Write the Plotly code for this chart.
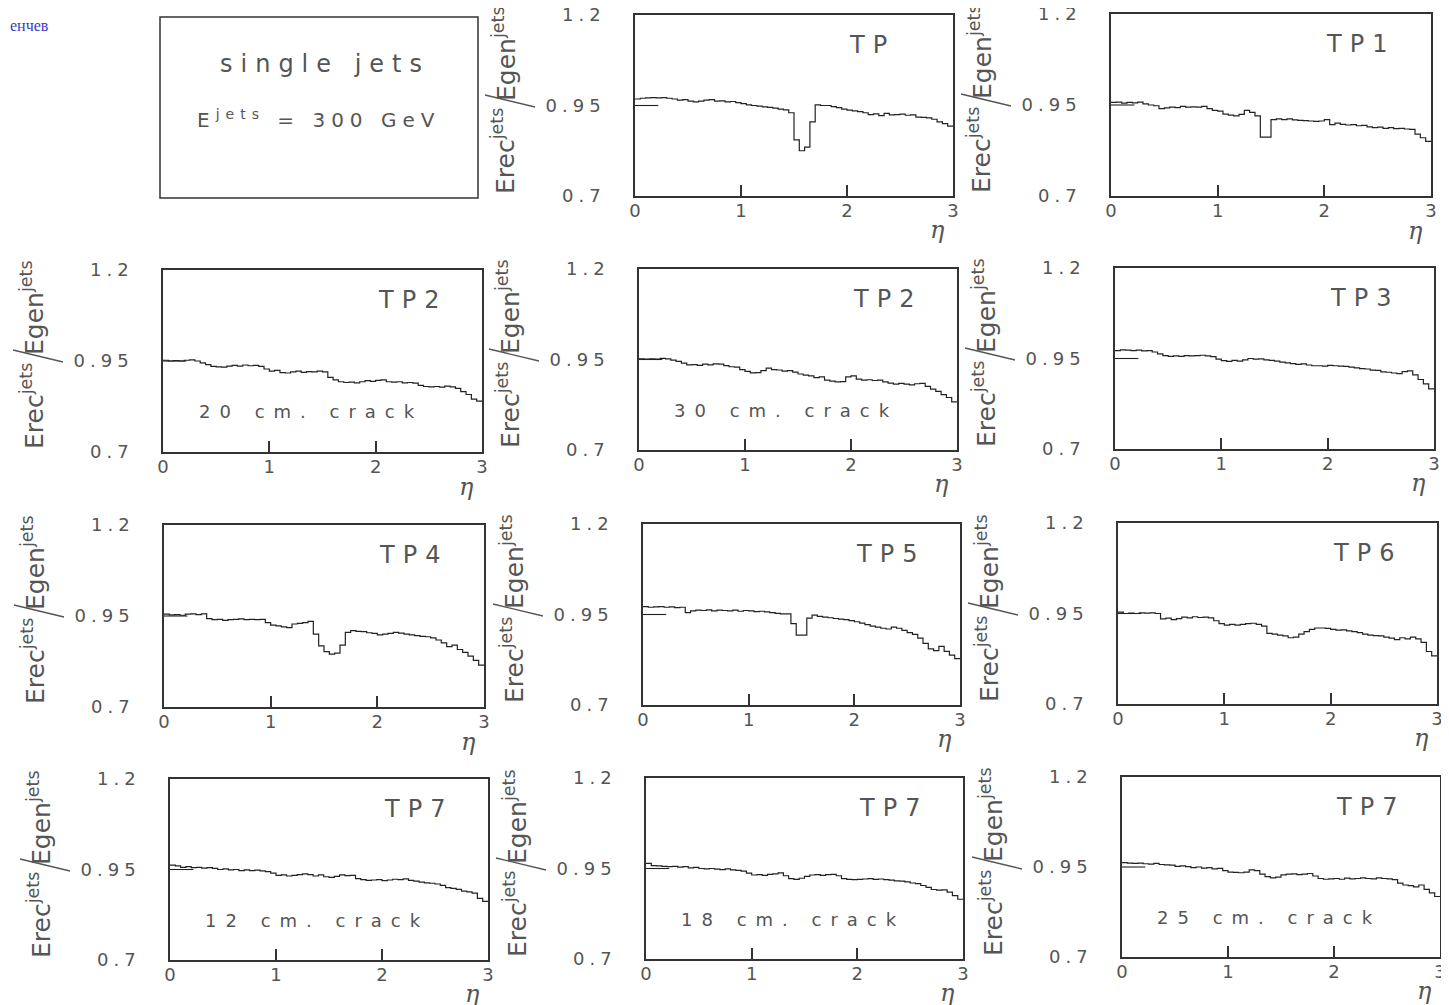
import numpy as np
import plotly.graph_objects as go

W, H = 1449, 1005
PAGE_OFFSET = 8  # default body margin of the written html page

# ---------------- data ----------------
ETA_EDGES = np.linspace(0.0, 3.0, 61)  # 60 bins, width 0.05 in eta

PANEL_LABELS = ["TP", "TP1", "TP2", "TP2", "TP3", "TP4", "TP5", "TP6", "TP7", "TP7", "TP7"]
CRACK_LABELS = ["", "", "20 cm. crack", "30 cm. crack", "", "", "", "",
                "12 cm. crack", "18 cm. crack", "25 cm. crack"]

R_TP = [0.968, 0.970, 0.971, 0.972, 0.971, 0.972, 0.970, 0.968, 0.965, 0.966,
        0.962, 0.960, 0.962, 0.965, 0.966, 0.962, 0.963, 0.960, 0.961, 0.958,
        0.955, 0.952, 0.950, 0.948, 0.946, 0.945, 0.943, 0.940, 0.938, 0.930,
        0.855, 0.825, 0.835, 0.905, 0.952, 0.950, 0.950, 0.947, 0.944, 0.940,
        0.937, 0.935, 0.933, 0.930, 0.925, 0.927, 0.922, 0.928, 0.924, 0.925,
        0.926, 0.923, 0.924, 0.918, 0.917, 0.916, 0.912, 0.905, 0.900, 0.893]
R_TP1 = [0.957, 0.958, 0.955, 0.957, 0.956, 0.958, 0.953, 0.950, 0.948, 0.940,
         0.942, 0.944, 0.943, 0.946, 0.944, 0.945, 0.944, 0.946, 0.940, 0.935,
         0.933, 0.925, 0.922, 0.920, 0.924, 0.935, 0.930, 0.920, 0.862, 0.862,
         0.910, 0.912, 0.910, 0.912, 0.909, 0.908, 0.907, 0.906, 0.905, 0.906,
         0.910, 0.896, 0.900, 0.897, 0.895, 0.896, 0.893, 0.894, 0.890, 0.888,
         0.889, 0.886, 0.888, 0.885, 0.886, 0.884, 0.883, 0.870, 0.860, 0.850]
R_TP2_20 = [0.952, 0.950, 0.951, 0.950, 0.952, 0.953, 0.950, 0.945, 0.940, 0.935,
            0.934, 0.933, 0.936, 0.938, 0.936, 0.939, 0.937, 0.938, 0.935, 0.928,
            0.922, 0.924, 0.918, 0.917, 0.920, 0.922, 0.919, 0.921, 0.920, 0.922,
            0.920, 0.905, 0.898, 0.893, 0.891, 0.892, 0.890, 0.893, 0.896, 0.894,
            0.897, 0.898, 0.893, 0.892, 0.893, 0.890, 0.891, 0.889, 0.883, 0.880,
            0.879, 0.880, 0.878, 0.881, 0.879, 0.875, 0.866, 0.858, 0.845, 0.840]
R_TP2_30 = [0.952, 0.951, 0.952, 0.951, 0.953, 0.952, 0.948, 0.945, 0.940, 0.935,
            0.936, 0.934, 0.937, 0.935, 0.938, 0.937, 0.933, 0.930, 0.929, 0.922,
            0.917, 0.913, 0.914, 0.919, 0.926, 0.922, 0.921, 0.918, 0.919, 0.915,
            0.910, 0.907, 0.905, 0.900, 0.902, 0.893, 0.890, 0.888, 0.889, 0.902,
            0.905, 0.896, 0.893, 0.894, 0.892, 0.893, 0.888, 0.885, 0.882, 0.884,
            0.882, 0.880, 0.883, 0.884, 0.876, 0.868, 0.862, 0.853, 0.845, 0.833]
R_TP3 = [0.972, 0.974, 0.973, 0.972, 0.973, 0.971, 0.972, 0.968, 0.963, 0.958,
         0.956, 0.957, 0.956, 0.958, 0.957, 0.958, 0.959, 0.957, 0.955, 0.948,
         0.944, 0.942, 0.945, 0.943, 0.946, 0.950, 0.948, 0.949, 0.946, 0.945,
         0.943, 0.940, 0.938, 0.936, 0.934, 0.935, 0.932, 0.930, 0.930, 0.929,
         0.931, 0.930, 0.929, 0.928, 0.926, 0.924, 0.922, 0.921, 0.918, 0.917,
         0.913, 0.912, 0.910, 0.908, 0.914, 0.916, 0.905, 0.892, 0.880, 0.866]
R_TP4 = [0.955, 0.953, 0.954, 0.952, 0.955, 0.956, 0.954, 0.956, 0.943, 0.940,
         0.941, 0.938, 0.940, 0.941, 0.942, 0.940, 0.941, 0.940, 0.941, 0.932,
         0.925, 0.923, 0.920, 0.918, 0.928, 0.930, 0.932, 0.935, 0.900, 0.868,
         0.852, 0.845, 0.848, 0.870, 0.905, 0.910, 0.908, 0.907, 0.904, 0.902,
         0.898, 0.900, 0.902, 0.905, 0.903, 0.900, 0.898, 0.896, 0.894, 0.893,
         0.890, 0.884, 0.876, 0.866, 0.870, 0.858, 0.850, 0.840, 0.828, 0.815]
R_TP5 = [0.972, 0.970, 0.971, 0.972, 0.970, 0.971, 0.969, 0.970, 0.955, 0.960,
         0.962, 0.961, 0.963, 0.960, 0.962, 0.961, 0.960, 0.962, 0.959, 0.961,
         0.960, 0.958, 0.959, 0.957, 0.955, 0.953, 0.952, 0.952, 0.925, 0.893,
         0.893, 0.940, 0.948, 0.945, 0.943, 0.941, 0.939, 0.937, 0.936, 0.933,
         0.930, 0.926, 0.922, 0.918, 0.915, 0.912, 0.910, 0.915, 0.912, 0.906,
         0.900, 0.895, 0.885, 0.870, 0.855, 0.850, 0.862, 0.848, 0.838, 0.828]
R_TP6 = [0.954, 0.950, 0.951, 0.950, 0.952, 0.951, 0.952, 0.950, 0.935, 0.937,
         0.933, 0.936, 0.940, 0.938, 0.941, 0.939, 0.940, 0.938, 0.930, 0.922,
         0.918, 0.920, 0.918, 0.920, 0.922, 0.923, 0.920, 0.915, 0.895, 0.893,
         0.890, 0.888, 0.883, 0.885, 0.893, 0.900, 0.906, 0.910, 0.910, 0.909,
         0.906, 0.904, 0.905, 0.902, 0.900, 0.897, 0.893, 0.890, 0.889, 0.888,
         0.885, 0.882, 0.878, 0.883, 0.880, 0.885, 0.880, 0.870, 0.845, 0.833]
R_TP7_12 = [0.962, 0.960, 0.956, 0.958, 0.955, 0.956, 0.954, 0.955, 0.953, 0.950,
            0.952, 0.949, 0.950, 0.947, 0.949, 0.947, 0.948, 0.946, 0.944, 0.940,
            0.934, 0.935, 0.932, 0.934, 0.936, 0.938, 0.936, 0.932, 0.935, 0.930,
            0.928, 0.931, 0.935, 0.933, 0.934, 0.925, 0.922, 0.920, 0.921, 0.922,
            0.919, 0.921, 0.923, 0.922, 0.924, 0.920, 0.918, 0.915, 0.913, 0.912,
            0.910, 0.906, 0.900, 0.898, 0.895, 0.890, 0.888, 0.885, 0.870, 0.862]
R_TP7_18 = [0.964, 0.958, 0.957, 0.956, 0.955, 0.956, 0.954, 0.955, 0.952, 0.953,
            0.950, 0.949, 0.950, 0.948, 0.947, 0.949, 0.946, 0.945, 0.943, 0.937,
            0.932, 0.933, 0.931, 0.934, 0.935, 0.938, 0.930, 0.922, 0.920, 0.923,
            0.928, 0.932, 0.933, 0.931, 0.933, 0.934, 0.930, 0.922, 0.920, 0.919,
            0.920, 0.921, 0.922, 0.920, 0.921, 0.919, 0.918, 0.916, 0.915, 0.913,
            0.910, 0.908, 0.903, 0.898, 0.892, 0.890, 0.891, 0.885, 0.875, 0.865]
R_TP7_25 = [0.962, 0.961, 0.960, 0.961, 0.959, 0.958, 0.960, 0.957, 0.956, 0.955,
            0.952, 0.953, 0.951, 0.948, 0.950, 0.947, 0.948, 0.945, 0.946, 0.940,
            0.936, 0.935, 0.934, 0.936, 0.942, 0.940, 0.930, 0.923, 0.920, 0.922,
            0.928, 0.930, 0.931, 0.929, 0.930, 0.932, 0.925, 0.918, 0.916, 0.917,
            0.918, 0.916, 0.919, 0.917, 0.918, 0.920, 0.918, 0.917, 0.920, 0.918,
            0.917, 0.915, 0.905, 0.900, 0.898, 0.895, 0.900, 0.888, 0.878, 0.868]

SERIES = [R_TP, R_TP1, R_TP2_20, R_TP2_30, R_TP3, R_TP4, R_TP5, R_TP6,
          R_TP7_12, R_TP7_18, R_TP7_25]

Y_TICKS = [0.7, 0.95, 1.2]
Y_TICK_TEXT = ["0.7", "0.95", "1.2"]
X_TICKS = [0, 1, 2, 3]
X_TICK_TEXT = ["0", "1", "2", "3"]
REF_ETA = [0.0, 0.22]
REF_VAL = [0.95, 0.95]

# ---------------- layout (pixel frames in the target image: left, top, right, bottom) ----------------
TITLE_FRAME = (160, 17, 478, 198)
FRAMES = [(635, 15, 953, 196), (1111, 14, 1431, 196),
          (163, 270, 482, 452), (639, 269, 957, 450), (1115, 268, 1434, 449),
          (164, 525, 484, 707), (643, 524, 960, 705), (1118, 523, 1437, 704),
          (170, 779, 488, 960), (646, 778, 963, 959), (1122, 777, 1440, 957)]

FONT = "DejaVu Sans"
TXT = "#555555"
LINE = "#333333"


def px(x):
    return (x - PAGE_OFFSET) / W


def py(y):
    return 1 - (y - PAGE_OFFSET) / H


def spaced(text, ls):
    return f'<span style="letter-spacing:{ls}px">{text}</span>'


fig = go.Figure()
annotations = []
shapes = []
layout_axes = {}

for k, (vals, (L, T, R, B)) in enumerate(zip(SERIES, FRAMES), start=1):
    suffix = "" if k == 1 else str(k)
    xa, ya = f"x{suffix}", f"y{suffix}"
    xs = list(ETA_EDGES)
    ys = list(vals) + [vals[-1]]
    fig.add_trace(go.Scatter(x=xs, y=ys, mode="lines", line_shape="hv",
                             line=dict(color="#222222", width=1.2),
                             xaxis=xa, yaxis=ya, showlegend=False, hoverinfo="skip"))
    fig.add_trace(go.Scatter(x=REF_ETA, y=REF_VAL, mode="lines",
                             line=dict(color="#222222", width=1.1),
                             xaxis=xa, yaxis=ya, showlegend=False, hoverinfo="skip"))
    layout_axes[f"xaxis{suffix}"] = dict(
        domain=[px(L), px(R)], range=[0, 3], anchor=ya,
        tickmode="array", tickvals=X_TICKS,
        ticktext=X_TICK_TEXT,
        ticks="inside", ticklen=11, tickwidth=1.5, tickcolor=LINE,
        showline=True, mirror=True, linecolor=LINE, linewidth=1.5,
        showgrid=False, zeroline=False, ticklabelstandoff=-2,
        ticklabeloverflow="allow",
        tickfont=dict(family=FONT, size=18, color=TXT), fixedrange=True)
    layout_axes[f"yaxis{suffix}"] = dict(
        domain=[py(B), py(T)], range=[0.7, 1.2], anchor=xa,
        tickmode="array", tickvals=Y_TICKS,
        ticktext=[spaced(t, 5) for t in Y_TICK_TEXT],
        ticks="", showline=True, mirror=True, linecolor=LINE, linewidth=1.5,
        showgrid=False, zeroline=False, ticklabelstandoff=24,
        ticklabeloverflow="allow",
        tickfont=dict(family=FONT, size=18, color=TXT), fixedrange=True)

    # panel label
    annotations.append(dict(x=2.0, y=1.117, xref=xa, yref=ya, xanchor="left",
                            yanchor="middle", showarrow=False,
                            text=spaced(PANEL_LABELS[k - 1], 8),
                            font=dict(family=FONT, size=24, color=TXT)))
    if CRACK_LABELS[k - 1]:
        annotations.append(dict(x=1.39, y=0.81, xref=xa, yref=ya, xanchor="center",
                                yanchor="middle", showarrow=False,
                                text=spaced(CRACK_LABELS[k - 1], 9),
                                font=dict(family=FONT, size=18, color=TXT)))
    # eta label
    annotations.append(dict(x=2.85, y=-0.19, xref=xa, yref=f"{ya} domain",
                            xanchor="center", yanchor="middle", showarrow=False,
                            text="η",
                            font=dict(family="DejaVu Serif", size=24, color=TXT,
                                      style="italic")))
    # y title in two parts with a long slash
    annotations.append(dict(x=px(L - 131), y=py(T + 136), xref="paper", yref="paper",
                            xanchor="center", yanchor="middle", showarrow=False,
                            textangle=-90, text="Erec<sup>jets</sup>",
                            font=dict(family=FONT, size=25, color=TXT)))
    annotations.append(dict(x=px(L - 131), y=py(T + 38), xref="paper", yref="paper",
                            xanchor="center", yanchor="middle", showarrow=False,
                            textangle=-90, text="Egen<sup>jets</sup>",
                            font=dict(family=FONT, size=25, color=TXT)))
    shapes.append(dict(type="line", xref="paper", yref="paper",
                       x0=px(L - 150), y0=py(T + 80), x1=px(L - 100), y1=py(T + 92),
                       line=dict(color=TXT, width=1.3)))

# title box panel
L, T, R, B = TITLE_FRAME
shapes.append(dict(type="rect", xref="paper", yref="paper",
                   x0=px(L), y0=py(B), x1=px(R), y1=py(T),
                   line=dict(color=LINE, width=1.5), fillcolor="rgba(0,0,0,0)"))
annotations.append(dict(x=px(325), y=py(64), xref="paper", yref="paper",
                        xanchor="center", yanchor="middle", showarrow=False,
                        text=spaced("single jets", 8),
                        font=dict(family=FONT, size=24, color=TXT)))
annotations.append(dict(x=px(318), y=py(119), xref="paper", yref="paper",
                        xanchor="center", yanchor="middle", showarrow=False,
                        text=spaced("E<sup>jets</sup> = 300 GeV", 6),
                        font=dict(family=FONT, size=20, color=TXT)))
# corner caption
annotations.append(dict(x=0, y=py(26), xref="paper", yref="paper",
                        xanchor="left", yanchor="middle", showarrow=False,
                        text="енчев",
                        font=dict(family="Liberation Serif", size=16, color="#3a3ad0")))

fig.update_layout(width=W, height=H,
                  margin=dict(l=0, r=0, t=0, b=0, pad=0, autoexpand=False),
                  paper_bgcolor="white", plot_bgcolor="white",
                  annotations=annotations, shapes=shapes, showlegend=False,
                  **layout_axes)

fig.write_html("out.html")
